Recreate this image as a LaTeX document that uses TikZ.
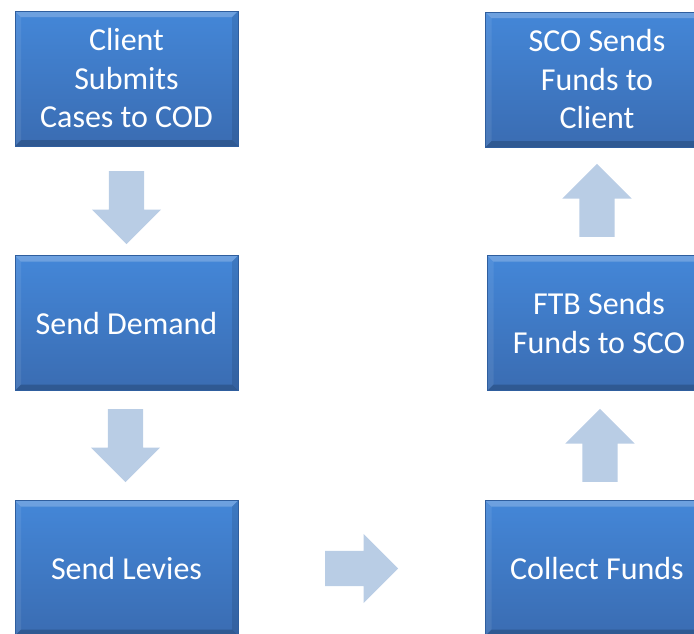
\documentclass[tikz,border=0pt]{standalone}
\usepackage{fontspec}
\setmainfont{Carlito}
\usetikzlibrary{shapes.arrows}
\definecolor{boxtop}{HTML}{4487D8}
\definecolor{boxbottom}{HTML}{3A6CB2}
\definecolor{boxedge}{HTML}{2F5E9E}
\definecolor{arrowblue}{HTML}{B9CDE5}
\tikzset{
    stepbox/.style={draw=boxedge, line width=0.6pt, top color=boxtop, bottom color=boxbottom,
        minimum width=223pt, minimum height=135pt, inner sep=0pt, text=white, align=center,
        font=\fontsize{32}{38.5}\selectfont,
        path picture={
            % light bevel on top and left, dark bevel on bottom and right
            \fill[white, opacity=0.22] (path picture bounding box.north west) -- (path picture bounding box.north east)
                -- ([xshift=-6pt, yshift=-6pt]path picture bounding box.north east) -- ([xshift=6pt, yshift=-6pt]path picture bounding box.north west) -- cycle;
            \fill[white, opacity=0.08] (path picture bounding box.north west) -- (path picture bounding box.south west)
                -- ([xshift=6pt, yshift=6pt]path picture bounding box.south west) -- ([xshift=6pt, yshift=-6pt]path picture bounding box.north west) -- cycle;
            \fill[black, opacity=0.18] (path picture bounding box.south west) -- (path picture bounding box.south east)
                -- ([xshift=-6pt, yshift=6pt]path picture bounding box.south east) -- ([xshift=6pt, yshift=6pt]path picture bounding box.south west) -- cycle;
            \fill[black, opacity=0.1] (path picture bounding box.north east) -- (path picture bounding box.south east)
                -- ([xshift=-6pt, yshift=6pt]path picture bounding box.south east) -- ([xshift=-6pt, yshift=-6pt]path picture bounding box.north east) -- cycle;
        }},
    blockarrow/.style={single arrow, fill=arrowblue, draw=none, minimum height=73pt,
        inner xsep=0pt, inner ysep=17.5pt, single arrow head extend=17pt, anchor=tail}
}
\begin{document}
\begin{tikzpicture}[x=1pt, y=-1pt]
        % fix the page size and cut the boxes at the edges
        \useasboundingbox (0, 0) rectangle (694, 633);
        \clip (0, 0) rectangle (694, 633);
        % left column
        \node[stepbox] (submit) at (126.5, 78.5) {Client\\Submits\\Cases to COD};
        \node[stepbox] (demand) at (126.5, 323) {Send Demand};
        \node[stepbox] (levies) at (126.5, 568) {Send Levies};
        % right column
        \node[stepbox] (collect) at (597, 568) {Collect Funds};
        \node[stepbox] (ftb) at (599, 323) {FTB Sends\\Funds to SCO};
        \node[stepbox] (sco) at (597, 79.5) {SCO Sends\\Funds to\\Client};
        % block arrows between the steps, placed by their tails
        \node[blockarrow, rotate=-90] (down1) at (126.5, 171) {};
        \node[blockarrow, rotate=-90] (down2) at (125.5, 409) {};
        \node[blockarrow] (across) at (325, 568.5) {};
        \node[blockarrow, rotate=90] (up1) at (600, 482) {};
        \node[blockarrow, rotate=90] (up2) at (597, 237) {};
    \end{tikzpicture}
\end{document}
